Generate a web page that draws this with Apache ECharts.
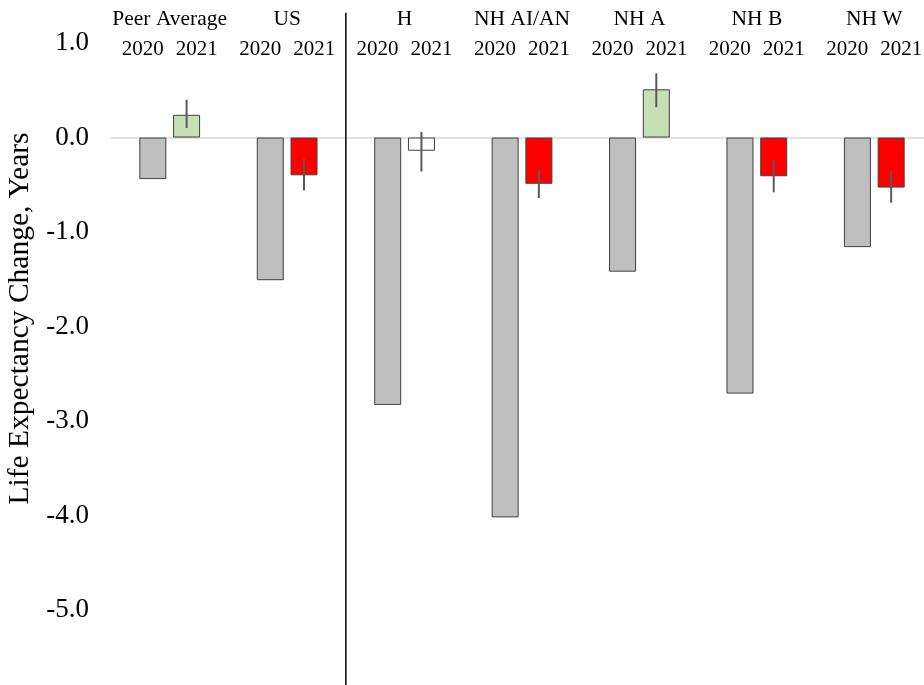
<!DOCTYPE html>
<html>
<head>
<meta charset="utf-8">
<script src="https://cdn.jsdelivr.net/npm/echarts@6/dist/echarts.min.js"></script>
<style>html,body{margin:0;padding:0;background:#fff}#c{width:924px;height:685px}</style>
</head>
<body>
<div id="c"></div>
<script>
const groups = ['Peer Average', 'US', 'H', 'NH AI/AN', 'NH A', 'NH B', 'NH W'];
const years = ['2020', '2021'];
const y2020 = [-0.44, -1.51, -2.83, -4.02, -1.42, -2.71, -1.16];
const y2021 = [0.24, -0.40, -0.14, -0.49, 0.51, -0.41, -0.53];
const errLow = [0.10, -0.56, -0.36, -0.64, 0.32, -0.58, -0.69];
const errHigh = [0.40, -0.22, 0.06, -0.34, 0.68, -0.24, -0.35];
const color2021 = ['#C5E0B4', '#FF0000', '#FFFFFF', '#FF0000', '#C5E0B4', '#FF0000', '#FF0000'];
const yTicks = [-5, -4, -3, -2, -1, 0, 1];
const dividerAfter = 1;          // line between US and H
const dividerRange = [1.32, -5.8];

const FONT = 'Liberation Serif';
const BAR_W = 27, GAP = 0.25;

const chart = echarts.init(document.getElementById('c'), null, {renderer: 'canvas'});
chart.setOption({
  animation: false,
  grid: {left: 111, right: -9, top: 43, bottom: 75, containLabel: false, outerBoundsMode: 'none'},
  xAxis: [{
    type: 'category', data: groups, position: 'bottom',
    axisLine: {onZero: true, lineStyle: {color: '#D9D9D9', width: 1.5}},
    axisTick: {show: false}, axisLabel: {show: false}, splitLine: {show: false}
  }, {
    type: 'category', data: groups, position: 'top',
    axisLine: {show: false, onZero: false}, axisTick: {show: false},
    offset: -21,
    axisLabel: {
      margin: 0, interval: 0,
      formatter: g => '{g|' + g + '}\n{y|' + years[0] + '}{s|}{y|' + years[1] + '}',
      rich: {
        g: {fontFamily: FONT, fontSize: 21.5, color: '#000', lineHeight: 30, align: 'center'},
        y: {fontFamily: FONT, fontSize: 21, color: '#000', lineHeight: 30},
        s: {width: 12}
      }
    }
  }],
  yAxis: {
    type: 'value', min: yTicks[0], max: yTicks[yTicks.length - 1], interval: 1,
    axisLine: {show: false}, axisTick: {show: false}, splitLine: {show: false},
    axisLabel: {fontFamily: FONT, fontSize: 27, color: '#000', margin: 22, formatter: v => v.toFixed(1)},
    name: 'Life Expectancy Change, Years', nameLocation: 'middle', nameGap: 74,
    nameTextStyle: {fontFamily: FONT, fontSize: 29.5, color: '#000', padding: [0, 0, 0, 16]}
  },
  series: [{
    type: 'bar', name: years[0], data: y2020, barWidth: BAR_W, barGap: (GAP * 100) + '%',
    itemStyle: {color: '#BFBFBF', borderColor: '#404040', borderWidth: 1}
  }, {
    type: 'bar', name: years[1], barWidth: BAR_W,
    data: y2021.map((v, i) => ({value: v, itemStyle: {color: color2021[i]}})),
    itemStyle: {borderColor: '#404040', borderWidth: 1}
  }, {
    type: 'custom', name: 'err', z: 5,
    data: errLow.map((lo, i) => [i, lo, errHigh[i]]),
    renderItem: (params, api) => {
      const off = BAR_W * (1 + GAP) / 2;
      const p1 = api.coord([api.value(0), api.value(1)]);
      const p2 = api.coord([api.value(0), api.value(2)]);
      return {type: 'line', shape: {x1: p1[0] + off, y1: p1[1], x2: p2[0] + off, y2: p2[1]},
        style: {stroke: '#595959', lineWidth: 2}};
    }
  }, {
    type: 'custom', name: 'divider', z: 6, clip: false,
    data: [[dividerAfter, dividerRange[0], dividerRange[1]]],
    renderItem: (params, api) => {
      const half = api.size([1, 0])[0] / 2;
      const p1 = api.coord([api.value(0), api.value(1)]);
      const p2 = api.coord([api.value(0), api.value(2)]);
      return {type: 'line', shape: {x1: p1[0] + half, y1: p1[1], x2: p2[0] + half, y2: p2[1]},
        style: {stroke: '#000', lineWidth: 1.5}};
    }
  }]
});
</script>
</body>
</html>
